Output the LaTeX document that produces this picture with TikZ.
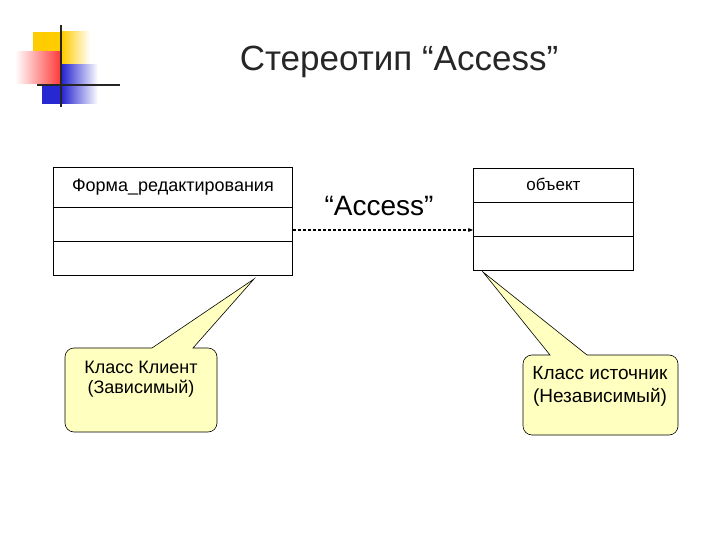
\documentclass[tikz,border=0pt]{standalone}
\usepackage{fontspec}
\setmainfont{Liberation Sans}
\usetikzlibrary{arrows.meta,calc}
\definecolor{noteyellow}{RGB}{255,255,192}
\definecolor{logoyellow}{RGB}{255,204,0}
\definecolor{logored}{RGB}{255,60,60}
\definecolor{logoblue}{RGB}{40,40,210}
\tikzset{
  comp/.style={draw=black,line width=0.8pt,inner sep=0pt,minimum width=#1,anchor=north west},
  note/.style={draw=black,line width=0.6pt,fill=noteyellow},
  notetext/.style={align=center},
  dep/.style={densely dashed,line width=1.1pt,-{Stealth[length=5pt,width=4pt]}}
}
\begin{document}
\begin{tikzpicture}[x=1pt,y=-1pt]
\useasboundingbox (0,0) rectangle (720,540);
% logo
\fill[logoyellow] (33,32) rectangle (62,53);
\shade[left color=logoyellow,right color=white] (62,32) rectangle (90,66);
\shade[left color=white,right color=logored] (15,52) rectangle (60,84);
\shade[left color=logoblue,right color=white] (62,65) rectangle (98,104);
\fill[logoblue] (42,85) rectangle (62,104);
\draw[line width=2.2pt,black!85] (61,25) -- (61,107);
\draw[line width=2.2pt,black!85] (37,85) -- (120,85);
% title
\node[font=\fontsize{35}{40}\selectfont,text=black!85] (title) at (399,62) {Стереотип “Access”};
% left class
\node[comp=239pt,minimum height=40pt] (lh) at (53,167) {};
\node[font=\fontsize{18}{20}\selectfont] (lht) at (lh.center) {Форма\_редактирования};
\node[comp=239pt,minimum height=34pt] (la) at (53,207) {};
\node[comp=239pt,minimum height=34pt] (lb) at (53,241) {};
% right class
\node[comp=160pt,minimum height=34pt] (rh) at (473,168) {};
\node[font=\fontsize{17}{20}\selectfont] (rht) at ($(rh.center)+(0,-1)$) {объект};
\node[comp=160pt,minimum height=34pt] (ra) at (473,202) {};
\node[comp=160pt,minimum height=34pt] (rb) at (473,236) {};
% dependency
\coordinate (ay) at (0,230);
\draw[dep] (la.east |- ay) -- (ra.west |- ay);
\node[font=\fontsize{28}{30}\selectfont] (acc) at (379,206) {“Access”};
% left note
\path[note] (152,348) -- (254,279) -- (193,348)
  [rounded corners=9pt] -- (217,348) -- (217,432) -- (65,432) -- (65,348) [sharp corners] -- cycle;
\node[notetext,font=\fontsize{18}{20}\selectfont] (n1) at (141,379) {Класс Клиент\\(Зависимый)};
% right note
\path[note] (550,355) -- (483,272) -- (587,355)
  [rounded corners=9pt] -- (678,355) -- (678,435) -- (523,435) -- (523,355) [sharp corners] -- cycle;
\node[notetext,font=\fontsize{19}{23}\selectfont] (n2) at (600,386) {Класс источник\\(Независимый)};
\end{tikzpicture}
\end{document}
